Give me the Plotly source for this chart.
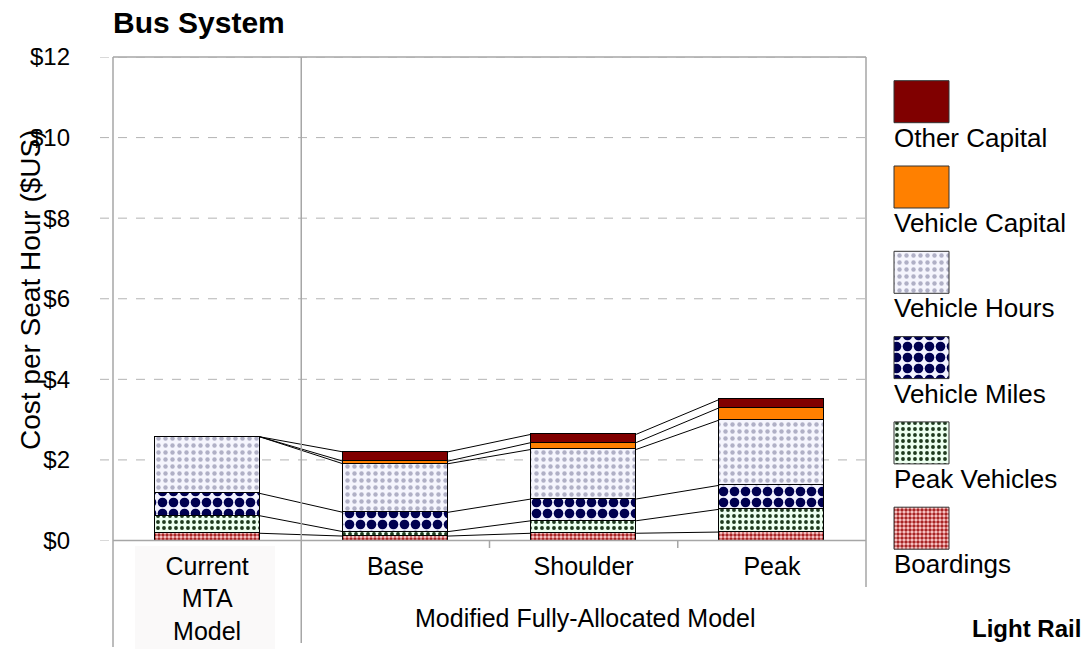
import plotly.graph_objects as go

W, H = 1086, 649

# ---- data -------------------------------------------------------------
categories = ["Current<br>MTA<br>Model", "Base", "Shoulder", "Peak"]
series_names = ["Boardings", "Peak Vehicles", "Vehicle Miles",
                "Vehicle Hours", "Vehicle Capital", "Other Capital"]

boardings = [0.18, 0.11, 0.18, 0.21]
peak_vehicles = [0.435, 0.11, 0.31, 0.565]
vehicle_miles = [0.555, 0.48, 0.54, 0.595]
vehicle_hours = [1.405, 1.205, 1.23, 1.62]
vehicle_capital = [0.0, 0.065, 0.17, 0.305]
other_capital = [0.0, 0.23, 0.205, 0.205]

y_ticks = [0, 2, 4, 6, 8, 10, 12]
y_tick_labels = ["$0", "$2", "$4", "$6", "$8", "$10", "$12"]

series_values = [boardings, peak_vehicles, vehicle_miles,
                 vehicle_hours, vehicle_capital, other_capital]

# ---- styling ----------------------------------------------------------
FONT = "Liberation Sans, Arial, sans-serif"
GRAY = "#a6a6a6"

fills = {
    "Boardings": dict(bg="#ffd2d2", fg="#a82424", shape=".", size=4, solidity=0.6),
    "Peak Vehicles": dict(bg="#ecfff0", fg="#1e3a1e", shape=".", size=6, solidity=0.32),
    "Vehicle Miles": dict(bg="#f2f2ff", fg="#000050", shape=".", size=11, solidity=0.6),
    "Vehicle Hours": dict(bg="#f5f5fd", fg="#b0b0c6", shape=".", size=7, solidity=0.32),
    "Vehicle Capital": dict(bg="#ff8000", fg=None),
    "Other Capital": dict(bg="#800000", fg=None),
}


def pattern_for(name):
    f = fills[name]
    if f["fg"] is None:
        return None
    return dict(shape=f["shape"], fgcolor=f["fg"], bgcolor=f["bg"],
                size=f["size"], solidity=f["solidity"], fillmode="replace")


# main plot area in pixels
PX_L, PX_R, PX_T, PX_B = 113, 866, 57, 540.5
BAR_W = 0.558


def px_x(p):
    return p / W


def px_y(p):
    return 1 - p / H


fig = go.Figure()

x_pos = list(range(len(categories)))

for name, vals in zip(series_names, series_values):
    marker = dict(color=fills[name]["bg"], line=dict(color="black", width=1.5))
    pat = pattern_for(name)
    if pat:
        marker["pattern"] = pat
    fig.add_trace(go.Bar(x=x_pos, y=vals, width=BAR_W, name=name,
                         marker=marker, showlegend=False,
                         hovertemplate=name + ": $%{y:.2f}<extra></extra>"))

# series lines joining the stack boundaries of neighbouring bars
cum = []
running = [0.0] * len(categories)
for vals in series_values:
    running = [r + v for r, v in zip(running, vals)]
    cum.append(list(running))

lx, ly = [], []
for level in cum:
    for i in range(len(categories) - 1):
        lx += [i + BAR_W / 2, i + 1 - BAR_W / 2, None]
        ly += [level[i], level[i + 1], None]
fig.add_trace(go.Scatter(x=lx, y=ly, mode="lines", line=dict(color="black", width=1),
                         showlegend=False, hoverinfo="skip"))

# legend swatches drawn on an overlay axis measured in pixels
SW_L, SW_R, SW_T0, SW_H, SW_STEP = 894, 949, 80.7, 42, 85.3
legend_order = list(reversed(series_names))
for k, name in enumerate(legend_order):
    top = SW_T0 + k * SW_STEP
    bot = top + SW_H
    kw = dict(fill="toself", fillcolor=fills[name]["bg"])
    pat = pattern_for(name)
    if pat:
        kw["fillpattern"] = pat
    fig.add_trace(go.Scatter(x=[SW_L, SW_R, SW_R, SW_L, SW_L],
                             y=[top, top, bot, bot, top],
                             mode="lines", line=dict(color="#333333", width=1),
                             xaxis="x2", yaxis="y2", showlegend=False,
                             hoverinfo="skip", **kw))
    fig.add_annotation(text=name, x=px_x(SW_L - 2), y=px_y(bot + 15),
                       xref="paper", yref="paper", xanchor="left", yanchor="middle",
                       showarrow=False, font=dict(family=FONT, size=26, color="black"))

shapes = []
# dashed gridlines, reaching a little left of the axis
for v in y_ticks:
    shapes.append(dict(type="line", xref="paper", yref="y", x0=px_x(100), x1=px_x(PX_R),
                       y0=v, y1=v, line=dict(color="#b4b4b4", width=1, dash="dash"),
                       layer="below"))
# faint panel behind the first category label
shapes.append(dict(type="rect", xref="paper", yref="paper", x0=px_x(135), x1=px_x(275),
                   y0=px_y(H), y1=px_y(546), fillcolor="#faf9f9", line=dict(width=0),
                   layer="below"))
# frame, axis and category dividers
shapes += [
    dict(type="line", xref="paper", yref="paper", x0=px_x(PX_L), x1=px_x(PX_R),
         y0=px_y(PX_T), y1=px_y(PX_T), line=dict(color=GRAY, width=1.5)),
    dict(type="line", xref="paper", yref="paper", x0=px_x(PX_L), x1=px_x(PX_R),
         y0=px_y(PX_B), y1=px_y(PX_B), line=dict(color=GRAY, width=1.5)),
    dict(type="line", xref="paper", yref="paper", x0=px_x(PX_L), x1=px_x(PX_L),
         y0=px_y(PX_T), y1=px_y(647), line=dict(color=GRAY, width=1.5)),
    dict(type="line", xref="paper", yref="paper", x0=px_x(PX_R), x1=px_x(PX_R),
         y0=px_y(PX_T), y1=px_y(587), line=dict(color=GRAY, width=1.5)),
]
for xb in [0.5]:
    shapes.append(dict(type="line", xref="x", yref="paper", x0=xb, x1=xb,
                       y0=px_y(PX_T), y1=px_y(643), line=dict(color=GRAY, width=1.5)))
for xb in [1.5, 2.5]:
    shapes.append(dict(type="line", xref="x", yref="paper", x0=xb, x1=xb,
                       y0=px_y(PX_B), y1=px_y(548), line=dict(color=GRAY, width=1.5)))

fig.update_layout(
    width=W, height=H, autosize=False,
    margin=dict(l=0, r=0, t=0, b=0, pad=0),
    paper_bgcolor="white", plot_bgcolor="rgba(0,0,0,0)",
    barmode="stack", bargap=0,
    shapes=shapes,
    font=dict(family=FONT, color="black"),
    xaxis=dict(domain=[px_x(PX_L), px_x(PX_R)], range=[-0.5, 3.5], automargin=False,
               tickvals=x_pos, ticktext=categories, ticks="", showgrid=False,
               zeroline=False, showline=False, ticklabelstandoff=8,
               tickfont=dict(family=FONT, size=25, color="black"), fixedrange=True),
    yaxis=dict(domain=[px_y(PX_B), px_y(PX_T)], range=[0, 12], automargin=False,
               tickvals=y_ticks, ticktext=y_tick_labels, ticks="", showgrid=False,
               zeroline=False, showline=False, ticklabelstandoff=42,
               tickfont=dict(family=FONT, size=24, color="black"), fixedrange=True),
    xaxis2=dict(domain=[0, 1], range=[0, W], visible=False, anchor="y2",
                automargin=False, fixedrange=True),
    yaxis2=dict(domain=[0, 1], range=[H, 0], visible=False, anchor="x2",
                automargin=False, fixedrange=True),
)

fig.add_annotation(text="<b>Bus System</b>", x=px_x(PX_L - 2), y=px_y(23),
                   xref="paper", yref="paper", xanchor="left", yanchor="middle",
                   showarrow=False, font=dict(family=FONT, size=30, color="black"))
fig.add_annotation(text="Cost per Seat Hour ($US)", x=px_x(30), y=px_y(290),
                   xref="paper", yref="paper", xanchor="center", yanchor="middle",
                   textangle=-90, showarrow=False,
                   font=dict(family=FONT, size=28, color="black"))
fig.add_annotation(text="Modified Fully-Allocated Model", x=px_x(585), y=px_y(618),
                   xref="paper", yref="paper", xanchor="center", yanchor="middle",
                   showarrow=False, font=dict(family=FONT, size=25, color="black"))
fig.add_annotation(text="<b>Light Rail</b>", x=px_x(970), y=px_y(628),
                   xref="paper", yref="paper", xanchor="left", yanchor="middle",
                   showarrow=False, font=dict(family=FONT, size=24, color="black"))

fig.write_html("out.html")
